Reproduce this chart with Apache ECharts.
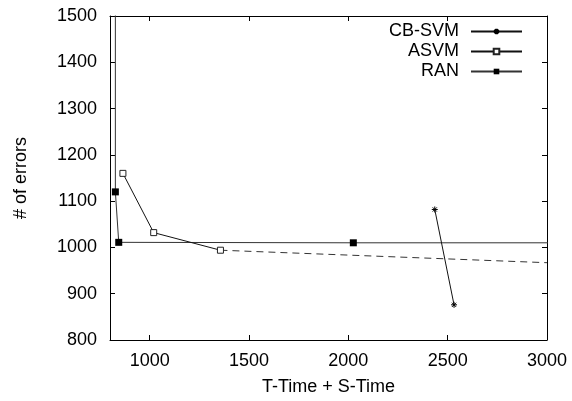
<!DOCTYPE html>
<html>
<head>
<meta charset="utf-8">
<script src="https://cdn.jsdelivr.net/npm/echarts@6/dist/echarts.min.js"></script>
<style>
  html, body { margin: 0; background: #fff; }
  #chart { width: 572px; height: 401px; }
</style>
</head>
<body>
<div id="chart"></div>
<script>
// tick values
const xTicks = [1000, 1500, 2000, 2500, 3000]
const yTicks = [800, 900, 1000, 1100, 1200, 1300, 1400, 1500]

// [time, errors]
const cbsvm = [[2435, 1082], [2532, 876]]
const asvm = [[865, 1160], [1020, 1032], [1356, 994]]
const asvmTrend = [[1356, 994], [3000, 967]]
// first and last RAN points lie outside the plotted range
const ran = [[827, 4000], [827, 1120], [844, 1011], [2025, 1010], [3600, 1010]]
const ranHidden = [0, 4]

const font = 'Liberation Sans, Arial, Helvetica, sans-serif'
const fs = 18
const chart = echarts.init(document.getElementById('chart'))

const tickStyle = { show: true, inside: true, length: 5, lineStyle: { color: '#000', width: 1 } }
const lineAxis = { show: true, lineStyle: { color: '#000', width: 1 } }
const plain = v => String(v)

chart.setOption({
  animation: false,
  grid: { left: 110, right: 25, top: 16, bottom: 60 },
  legend: {
    orient: 'vertical',
    align: 'right',
    right: 49,
    top: 22,
    padding: 0,
    itemWidth: 51,
    itemHeight: 7,
    itemGap: 1,
    selectedMode: false,
    data: ['CB-SVM', 'ASVM', 'RAN'],
    textStyle: { fontFamily: font, fontSize: fs, color: '#000', lineHeight: 19, padding: [0, 7, 0, 0] }
  },
  xAxis: [{
    type: 'value',
    min: 800,
    max: 3000,
    name: 'T-Time + S-Time',
    nameLocation: 'middle',
    nameGap: 38,
    nameTextStyle: { fontFamily: font, fontSize: fs, color: '#000' },
    axisLine: lineAxis,
    axisTick: { ...tickStyle, customValues: xTicks },
    axisLabel: { customValues: xTicks, formatter: plain, margin: 12, fontFamily: font, fontSize: fs, color: '#000' },
    splitLine: { show: false }
  }, {
    type: 'value',
    position: 'top',
    min: 800,
    max: 3000,
    axisLine: lineAxis,
    axisTick: { ...tickStyle, customValues: xTicks },
    axisLabel: { show: false },
    splitLine: { show: false }
  }],
  yAxis: [{
    type: 'value',
    min: 800,
    max: 1500,
    name: '# of errors',
    nameLocation: 'middle',
    nameRotate: 90,
    nameGap: 80,
    nameTextStyle: { fontFamily: font, fontSize: fs, color: '#000' },
    axisLine: lineAxis,
    axisTick: { ...tickStyle, customValues: yTicks },
    axisLabel: { customValues: yTicks, formatter: plain, margin: 13, fontFamily: font, fontSize: fs, color: '#000' },
    splitLine: { show: false }
  }, {
    type: 'value',
    position: 'right',
    min: 800,
    max: 1500,
    axisLine: lineAxis,
    axisTick: { ...tickStyle, customValues: yTicks },
    axisLabel: { show: false },
    splitLine: { show: false }
  }],
  series: [{
    name: 'CB-SVM',
    type: 'line',
    data: cbsvm,
    symbol: 'path://M0,5L10,5M5,0L5,10M1.5,1.5L8.5,8.5M8.5,1.5L1.5,8.5',
    symbolSize: 6,
    itemStyle: { color: '#000', borderColor: '#000', borderWidth: 1 },
    lineStyle: { color: '#111', width: 1 }
  }, {
    name: 'ASVM',
    type: 'line',
    data: asvm,
    symbol: 'rect',
    symbolSize: 6,
    itemStyle: { color: '#fff', borderColor: '#222', borderWidth: 1 },
    lineStyle: { color: '#111', width: 1 },
    z: 3
  }, {
    name: 'ASVM trend',
    type: 'line',
    data: asvmTrend,
    symbol: 'none',
    lineStyle: { color: '#333', width: 1, type: [7, 5] },
    z: 1
  }, {
    name: 'RAN',
    type: 'line',
    data: ran.map((p, i) => ranHidden.includes(i) ? { value: p, symbol: 'none' } : p),
    symbol: 'rect',
    symbolSize: 7,
    itemStyle: { color: '#000' },
    lineStyle: { color: '#333', width: 1 },
    clip: true,
    z: 2
  }]
})
</script>
</body>
</html>
